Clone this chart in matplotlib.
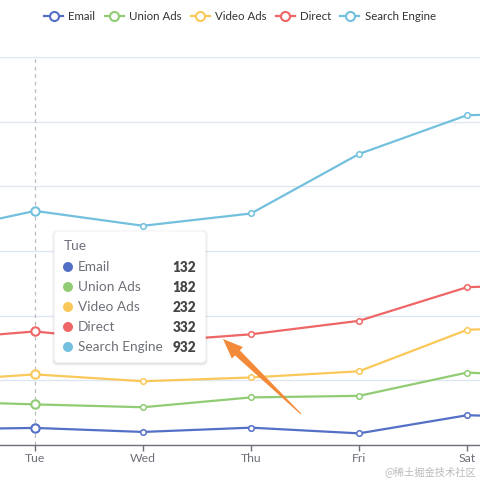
import numpy as np
import matplotlib.pyplot as plt
from matplotlib.patches import FancyBboxPatch, Polygon, Circle
from matplotlib.lines import Line2D

plt.rcParams['font.family'] = ['Lato', 'Noto Sans CJK SC', 'DejaVu Sans']

# data (ECharts stacked line example)
days = ['Mon', 'Tue', 'Wed', 'Thu', 'Fri', 'Sat', 'Sun']
names = ['Email', 'Union Ads', 'Video Ads', 'Direct', 'Search Engine']
email = [120, 132, 101, 134, 90, 230, 210]
union_ads = [220, 182, 191, 234, 290, 330, 310]
video_ads = [150, 232, 201, 154, 190, 330, 410]
direct = [320, 332, 301, 334, 390, 330, 320]
search = [820, 932, 901, 934, 1290, 1330, 1320]
colors = ['#5470c6', '#91cc75', '#fac858', '#ee6666', '#73c0de']
hover = 1  # Tue

series = [email, union_ads, video_ads, direct, search]
stacked = np.cumsum(np.array(series), axis=0)

W = H = 480
fig = plt.figure(figsize=(4.8, 4.8), dpi=100)


def px(x, y):
    # pixel coords (from top-left) -> figure fraction
    return x / W, 1 - y / H


# chart area is zoomed in: Mon and Sun fall outside the picture
ax = fig.add_axes([-73 / W, 35 / H, 648 / W, 388 / H])
x = np.arange(len(days))
ax.set_xlim(0, len(days) - 1)
ax.set_ylim(0, 3000)
ax.set_yticks(np.arange(0, 3001, 500))
ax.set_yticklabels([])
ax.tick_params(axis='y', length=0)
ax.grid(axis='y', color='#E0E6F1', lw=1)
ax.set_axisbelow(True)
for s in ['top', 'right', 'left']:
    ax.spines[s].set_visible(False)
ax.spines['bottom'].set_color('#6E7079')
ax.spines['bottom'].set_linewidth(1)
ax.set_xticks(x)
ax.set_xticklabels(days)
ax.tick_params(axis='x', length=4, width=1, color='#6E7079', pad=2,
               labelsize=8.8, labelcolor='#6E7079')
# labels of Mon / Sun sit outside the picture anyway
for lbl in ax.get_xticklabels():
    if lbl.get_text() in ('Mon', 'Sun'):
        lbl.set_visible(False)

# axis pointer
ax.axvline(hover, color='#BBBBBB', lw=0.9, ls=(0, (3, 3)), zorder=1)

for i in range(len(names)):
    ax.plot(x, stacked[i], color=colors[i], lw=1.6, marker='o', ms=4,
            mfc='white', mec=colors[i], mew=1.1, zorder=3 + i, clip_on=False)
    ax.plot(x[hover], stacked[i][hover], marker='o', ms=6, mfc='white',
            mec=colors[i], mew=1.5, zorder=3 + i, clip_on=False)

# legend
handles = [Line2D([0], [0], color=c, lw=1.6, marker='o', ms=6.5, mfc='white',
                  mec=c, mew=1.5) for c in colors]
fig.legend(handles, names, loc='upper center', bbox_to_anchor=(0.5, 1.0),
           ncol=5, frameon=False, fontsize=8.3, handlelength=1.65,
           handletextpad=0.45, columnspacing=0.8, labelcolor='#333333',
           borderaxespad=0.55)

# tooltip
bx0, by0, bx1, by1 = 55, 232, 205, 362
for k, a in enumerate([0.05, 0.04, 0.03]):
    sh = FancyBboxPatch(px(bx0 - 1 - k, by1 + 2 + k), (bx1 - bx0 + 2 + 2 * k) / W,
                        (by1 - by0 + 2 + 2 * k) / H,
                        boxstyle='round,pad=0,rounding_size=0.01',
                        transform=fig.transFigure, fc='black', ec='none',
                        alpha=a, zorder=20)
    fig.add_artist(sh)
box = FancyBboxPatch(px(bx0, by1), (bx1 - bx0) / W, (by1 - by0) / H,
                     boxstyle='round,pad=0,rounding_size=0.008',
                     transform=fig.transFigure, fc='white', ec='white',
                     lw=1, zorder=21)
fig.add_artist(box)
fig.text(*px(64, 246), days[hover], fontsize=9.8, color='#6E7079',
         va='center', ha='left', zorder=22)
for i in range(len(names)):
    yy = 267 + 20 * i
    fig.add_artist(Circle(px(68, yy), 5 / W, transform=fig.transFigure,
                          fc=colors[i], ec='none', zorder=22))
    fig.text(*px(78, yy), names[i], fontsize=9.8, color='#6E7079',
             va='center', ha='left', zorder=22)
    fig.text(*px(196, yy), str(series[i][hover]), fontsize=9.8,
             color='#464646', fontweight='heavy', va='center', ha='right',
             zorder=22)

# orange arrow pointing at the tooltip
tip = np.array([223.0, 339.0])
tail = np.array([301.0, 414.0])
d = (tail - tip) / np.linalg.norm(tail - tip)
n = np.array([-d[1], d[0]])
base = tip + d * 20
pts = [tip, base + n * 8, base + n * 3.5, tail + n * 0.5,
       tail - n * 0.5, base - n * 3.5, base - n * 8]
fig.add_artist(Polygon([px(*p) for p in pts], closed=True,
                       transform=fig.transFigure, fc='#F28A3A', ec='none',
                       zorder=25))

# watermark
fig.text(*px(476, 472), '@稀土掘金技术社区', fontsize=7.4, color='#BBBBBB',
         ha='right', va='center', family=['Noto Sans CJK SC', 'DejaVu Sans'])

fig.savefig('out.png', dpi=100)
